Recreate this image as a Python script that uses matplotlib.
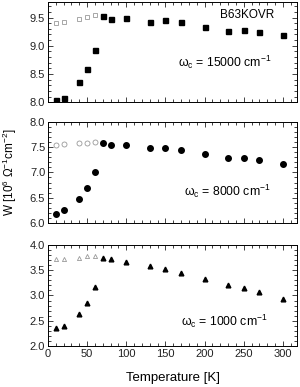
import numpy as np
import matplotlib
matplotlib.use("Agg")
import matplotlib.pyplot as plt
from matplotlib.ticker import MultipleLocator, NullFormatter, FormatStrFormatter

plt.rcParams["font.family"] = ["Liberation Sans", "DejaVu Sans"]
plt.rcParams["font.size"] = 8
plt.rcParams["mathtext.default"] = "regular"

# --- data ------------------------------------------------------------------
T_low = [10, 20, 40, 50, 60]
T_all = [10, 20, 40, 50, 60, 70, 80, 100, 130, 150, 170, 200, 230, 250, 270, 300]

w15000_open = [9.40, 9.42, 9.48, 9.51, 9.54]
w15000_fill = [8.03, 8.08, 8.36, 8.59, 8.92, 9.52, 9.47, 9.49, 9.43,
               9.45, 9.42, 9.34, 9.27, 9.28, 9.24, 9.19]

w8000_open = [7.55, 7.56, 7.58, 7.59, 7.60]
w8000_fill = [6.18, 6.25, 6.48, 6.70, 7.01, 7.59, 7.55, 7.55, 7.49,
              7.49, 7.45, 7.37, 7.29, 7.29, 7.24, 7.17]

w1000_open = [3.72, 3.73, 3.74, 3.78, 3.78]
w1000_fill = [2.35, 2.40, 2.63, 2.86, 3.17, 3.75, 3.72, 3.67, 3.58,
              3.52, 3.44, 3.32, 3.21, 3.14, 3.06, 2.94]

panels = [
    (w15000_open, w15000_fill, "s", (8.0, 9.77), r"ω$_c$ = 15000 cm$^{-1}$"),
    (w8000_open, w8000_fill, "o", (6.0, 8.0), r"ω$_c$ = 8000 cm$^{-1}$"),
    (w1000_open, w1000_fill, "^", (2.0, 4.0), r"ω$_c$ = 1000 cm$^{-1}$"),
]
label_pos = [(0.71, 0.40), (0.72, 0.31), (0.71, 0.24)]

fig = plt.figure(figsize=(3.0, 3.87), dpi=100)
boxes = [(0.16, 0.736, 0.83, 0.258), (0.16, 0.424, 0.83, 0.261),
         (0.16, 0.106, 0.83, 0.261)]

for k, (box, (wo, wf, mk, ylim, lab)) in enumerate(zip(boxes, panels)):
    ax = fig.add_axes(box)
    ms = {"s": 3.6, "o": 4.0, "^": 3.4}[mk]
    ax.plot(T_low, wo, mk, mfc="white", mec="#999999", mew=0.6, ms=ms - 0.4, ls="none")
    ax.plot(T_all, wf, mk, color="black", ms=ms, ls="none")
    ax.set_xlim(0, 318)
    ax.set_ylim(*ylim)
    ax.xaxis.set_major_locator(MultipleLocator(50))
    ax.xaxis.set_minor_locator(MultipleLocator(10))
    ax.yaxis.set_major_locator(MultipleLocator(0.5))
    ax.yaxis.set_minor_locator(MultipleLocator(0.1))
    ax.yaxis.set_major_formatter(FormatStrFormatter("%.1f"))
    ax.tick_params(which="both", direction="in", top=True, right=True, width=0.6,
                   labelsize=8, pad=2, colors="#222222")
    ax.tick_params(which="major", length=3.5)
    ax.tick_params(which="minor", length=2)
    for s in ax.spines.values():
        s.set_linewidth(0.7)
    if k < 2:
        ax.xaxis.set_major_formatter(NullFormatter())
    ax.text(*label_pos[k], lab, transform=ax.transAxes, ha="center", va="center",
            fontsize=8.8)
    if k == 0:
        ax.text(0.80, 0.87, "B63KOVR", transform=ax.transAxes, ha="center",
                va="center", fontsize=8.5)

fig.text(0.575, 0.023, "Temperature [K]", ha="center", va="center", fontsize=9.5)
fig.text(0.032, 0.555, r"W [10$^6$ Ω$^{-1}$cm$^{-2}$]", rotation=90,
         ha="center", va="center", fontsize=8.5)

fig.savefig("out.png", dpi=100)
